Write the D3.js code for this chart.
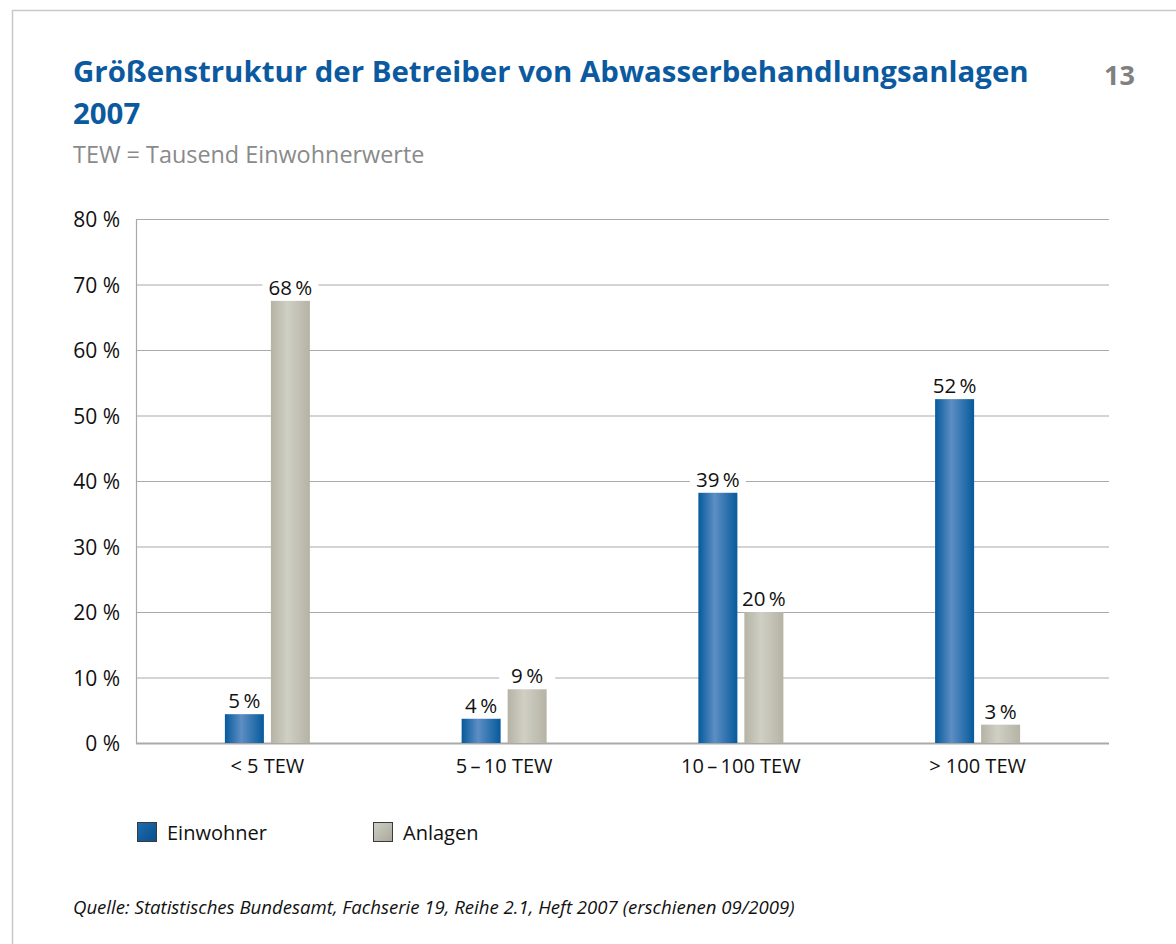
<!DOCTYPE html>
<html>
<head>
<meta charset="utf-8">
<script src="https://cdn.jsdelivr.net/npm/d3@7"></script>
<style>
  body { margin: 0; background: #fff; }
  svg { display: block; }
</style>
</head>
<body>
<svg id="chart" width="1176" height="944"></svg>
<script>
const categories = ["< 5 TEW", "5\u2009\u2013\u200910 TEW", "10\u2009\u2013\u2009100 TEW", "> 100 TEW"]
// bar heights as drawn, and the printed labels
const einwohner = [4.4, 3.7, 38.2, 52.5]
const einwohnerLabels = [5, 4, 39, 52]
const anlagen = [67.5, 8.2, 20.0, 2.8]
const anlagenLabels = [68, 9, 20, 3]
const yTicks = [0, 10, 20, 30, 40, 50, 60, 70, 80]
const seriesNames = ["Einwohner", "Anlagen"]

const svg = d3.select("#chart")
const font = "'Open Sans', 'Noto Sans', sans-serif"

const plotLeft = 136, plotRight = 1109, plotTop = 219, plotBottom = 743
const barW = 39, barGap = 7

// page frame
svg.append("line").attr("x1", 12).attr("x2", 1176).attr("y1", 10.5).attr("y2", 10.5)
  .attr("stroke", "#c8c8c8").attr("stroke-width", 1.5)
svg.append("line").attr("x1", 12.5).attr("x2", 12.5).attr("y1", 10).attr("y2", 944)
  .attr("stroke", "#c8c8c8").attr("stroke-width", 1.5)

// headings
svg.append("text").attr("x", 73).attr("y", 82)
  .style("font-family", font).style("font-weight", 700).style("font-size", "29.4px")
  .style("fill", "#0b5aa0")
  .text("Größenstruktur der Betreiber von Abwasserbehandlungsanlagen")
svg.append("text").attr("x", 73).attr("y", 124)
  .style("font-family", font).style("font-weight", 700).style("font-size", "29.4px")
  .style("fill", "#0b5aa0")
  .text("2007")
svg.append("text").attr("x", 1135).attr("y", 85).attr("text-anchor", "end")
  .style("font-family", font).style("font-weight", 700).style("font-size", "27px")
  .style("fill", "#808080")
  .text("13")
svg.append("text").attr("x", 73).attr("y", 163)
  .style("font-family", font).style("font-size", "23.4px")
  .style("fill", "#8a8a8a")
  .text("TEW = Tausend Einwohnerwerte")

// gradients
const defs = svg.append("defs")
function barGradient(id, edge, mid) {
  const g = defs.append("linearGradient").attr("id", id)
    .attr("x1", "0%").attr("x2", "100%").attr("y1", "0%").attr("y2", "0%")
  g.append("stop").attr("offset", "0%").attr("stop-color", edge)
  g.append("stop").attr("offset", "42%").attr("stop-color", mid)
  g.append("stop").attr("offset", "100%").attr("stop-color", edge)
}
barGradient("gradBlue", "#065a9c", "#5d8ec4")
barGradient("gradGrey", "#b4b3a5", "#d0cfc4")
function boxGradient(id, a, b) {
  const g = defs.append("linearGradient").attr("id", id)
    .attr("x1", "0%").attr("x2", "100%").attr("y1", "0%").attr("y2", "100%")
  g.append("stop").attr("offset", "0%").attr("stop-color", a)
  g.append("stop").attr("offset", "100%").attr("stop-color", b)
}
boxGradient("legBlue", "#1e6cb0", "#084f8c")
boxGradient("legGrey", "#cfcec4", "#a9a89a")

// scales
const y = d3.scaleLinear().domain([0, 80]).range([plotBottom, plotTop])
const x = d3.scalePoint().domain(categories).range([plotLeft, plotRight]).padding(0.555)

// grid
svg.append("g").selectAll("line").data(yTicks).join("line")
  .attr("x1", plotLeft).attr("x2", plotRight)
  .attr("y1", d => y(d) + 0.5).attr("y2", d => y(d) + 0.5)
  .attr("stroke", "#a9a9a9").attr("stroke-width", d => d === 0 ? 2 : 1.2)
svg.append("line").attr("x1", plotLeft + 0.5).attr("x2", plotLeft + 0.5)
  .attr("y1", plotTop).attr("y2", plotBottom)
  .attr("stroke", "#a9a9a9").attr("stroke-width", 1.2)

// y labels
svg.append("g").selectAll("text").data(yTicks).join("text")
  .attr("x", 120).attr("y", d => y(d) + 8).attr("text-anchor", "end")
  .style("font-family", font).style("font-size", "21px").style("fill", "#111")
  .text(d => d + " %")

// x labels
svg.append("g").selectAll("text").data(categories).join("text")
  .attr("x", d => x(d)).attr("y", 773).attr("text-anchor", "middle")
  .style("font-family", font).style("font-size", "20px").style("fill", "#111")
  .text(d => d)

// bars
const series = [
  { values: einwohner, labels: einwohnerLabels, fill: "url(#gradBlue)", dx: -barGap / 2 - barW },
  { values: anlagen, labels: anlagenLabels, fill: "url(#gradGrey)", dx: barGap / 2 }
]
const rowsOf = s => categories.map((c, i) => ({ c, v: s.values[i], l: s.labels[i], dx: s.dx, fill: s.fill }))
const allRows = series.flatMap(rowsOf)

// white label backings cut the grid lines, drawn under the bars
svg.append("g").selectAll("rect").data(allRows).join("rect")
  .attr("x", d => x(d.c) + d.dx + barW / 2 - 28).attr("width", 56)
  .attr("y", d => y(d.v) - 25).attr("height", 22)
  .attr("fill", "#fff")

svg.append("g").selectAll("rect").data(allRows).join("rect")
  .attr("x", d => x(d.c) + d.dx).attr("width", barW)
  .attr("y", d => y(d.v)).attr("height", d => y(0) - y(d.v))
  .attr("fill", d => d.fill)

svg.append("g").selectAll("text").data(allRows).join("text")
  .attr("x", d => x(d.c) + d.dx + barW / 2).attr("y", d => y(d.v) - 6)
  .attr("text-anchor", "middle")
  .style("font-family", font).style("font-size", "20.5px").style("fill", "#111")
  .text(d => d.l + "\u2009%")

// legend
const legendX = [137, 373]
const legendFill = ["url(#legBlue)", "url(#legGrey)"]
const leg = svg.append("g").selectAll("g").data(seriesNames).join("g")
leg.append("rect")
  .attr("x", (d, i) => legendX[i] + 0.5).attr("y", 822.5).attr("width", 19).attr("height", 19)
  .attr("fill", (d, i) => legendFill[i]).attr("stroke", "#3a3a3a").attr("stroke-width", 1)
leg.append("text")
  .attr("x", (d, i) => legendX[i] + 30).attr("y", 840)
  .style("font-family", font).style("font-size", "20px").style("fill", "#111")
  .text(d => d)

// source
svg.append("text").attr("x", 73).attr("y", 914)
  .style("font-family", font).style("font-style", "italic").style("font-size", "18.6px")
  .style("fill", "#111")
  .text("Quelle: Statistisches Bundesamt, Fachserie 19, Reihe 2.1, Heft 2007 (erschienen 09/2009)")
</script>
</body>
</html>
